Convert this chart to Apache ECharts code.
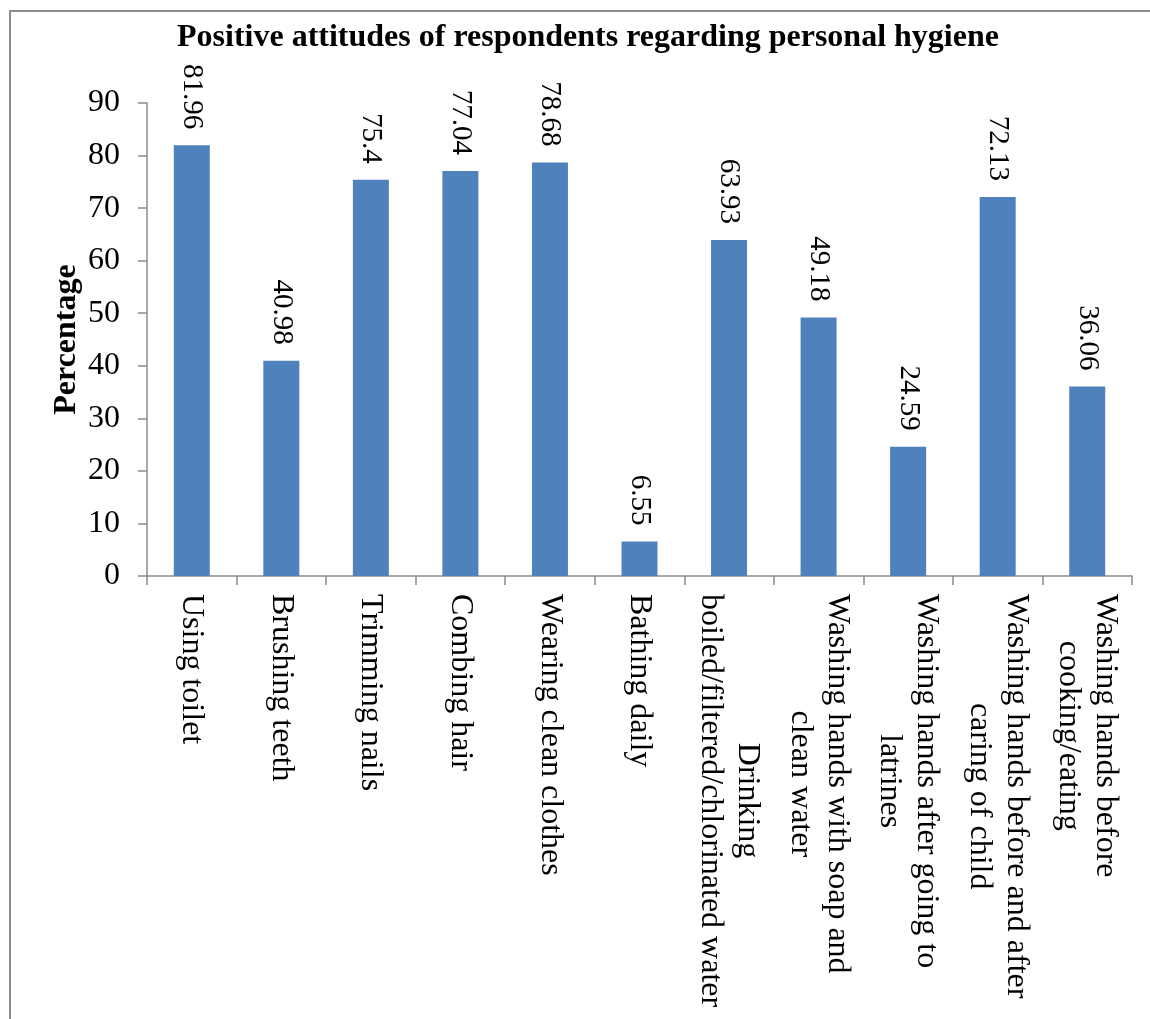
<!DOCTYPE html>
<html>
<head>
<meta charset="utf-8">
<script src="https://cdn.jsdelivr.net/npm/echarts@6/dist/echarts.min.js"></script>
<style>
html,body{margin:0;padding:0;background:#fff;}
#chart{width:1150px;height:1019px;}
</style>
</head>
<body>
<div id="chart"></div>
<script>
const chartTitle = 'Positive attitudes of respondents regarding personal hygiene';
const yAxisName = 'Percentage';
const categories = [
  'Using toilet',
  'Brushing teeth',
  'Trimming nails',
  'Combing hair',
  'Wearing clean clothes',
  'Bathing daily',
  'Drinking\nboiled/filtered/chlorinated water',
  'Washing hands with soap and\nclean water',
  'Washing hands after going to\nlatrines',
  'Washing hands before and after\ncaring of child',
  'Washing hands before\ncooking/eating'
];
const values = [81.96, 40.98, 75.4, 77.04, 78.68, 6.55, 63.93, 49.18, 24.59, 72.13, 36.06];
const valueLabels = ['81.96', '40.98', '75.4', '77.04', '78.68', '6.55', '63.93', '49.18', '24.59', '72.13', '36.06'];
const yMin = 0, yMax = 90, yStep = 10;

const SERIF = "'Liberation Serif', 'Times New Roman', serif";
const chart = echarts.init(document.getElementById('chart'));
chart.setOption({
  animation: false,
  backgroundColor: '#ffffff',
  title: {
    text: chartTitle,
    left: 172,
    top: 17,
    textStyle: { fontFamily: SERIF, fontSize: 32, fontWeight: 'bold', color: '#000' }
  },
  graphic: [{
    type: 'polyline',
    shape: { points: [[10, 1030], [10, 11], [1160, 11]] },
    style: { stroke: '#8c8c8c', lineWidth: 2, fill: null },
    silent: true
  }],
  grid: { left: 147, right: 18, top: 103, bottom: 443, containLabel: false },
  xAxis: {
    type: 'category',
    data: categories,
    axisLine: { lineStyle: { color: '#8c8c8c', width: 1.5 } },
    axisTick: { show: true, length: 9, lineStyle: { color: '#8c8c8c', width: 1.5 } },
    axisLabel: {
      interval: 0,
      rotate: -90,
      margin: 18,
      fontFamily: SERIF,
      fontSize: 32,
      color: '#000',
      formatter: function (v) {
        return v.split('\n').map(function (s) { return '{c|' + s + '}'; }).join('\n');
      },
      rich: {
        c: { align: 'center', fontFamily: SERIF, fontSize: 32, lineHeight: 37, color: '#000' }
      }
    }
  },
  yAxis: {
    type: 'value',
    min: yMin,
    max: yMax,
    interval: yStep,
    name: yAxisName,
    nameLocation: 'middle',
    nameGap: 64,
    nameMoveOverlap: false,
    nameTextStyle: { fontFamily: SERIF, fontSize: 32, fontWeight: 'bold', color: '#000' },
    axisLine: { show: true, lineStyle: { color: '#8c8c8c', width: 1.5 } },
    axisTick: { show: true, length: 9, lineStyle: { color: '#8c8c8c', width: 1.5 } },
    splitLine: { show: false },
    axisLabel: { margin: 27, fontFamily: SERIF, fontSize: 32, color: '#000' }
  },
  series: [{
    type: 'bar',
    data: values,
    barWidth: 36,
    itemStyle: { color: '#4F81BD' },
    label: {
      show: true,
      position: 'top',
      distance: 16,
      rotate: -90,
      align: 'right',
      verticalAlign: 'middle',
      fontFamily: SERIF,
      fontSize: 29,
      color: '#000',
      formatter: function (p) { return valueLabels[p.dataIndex]; }
    }
  }]
});
</script>
</body>
</html>
